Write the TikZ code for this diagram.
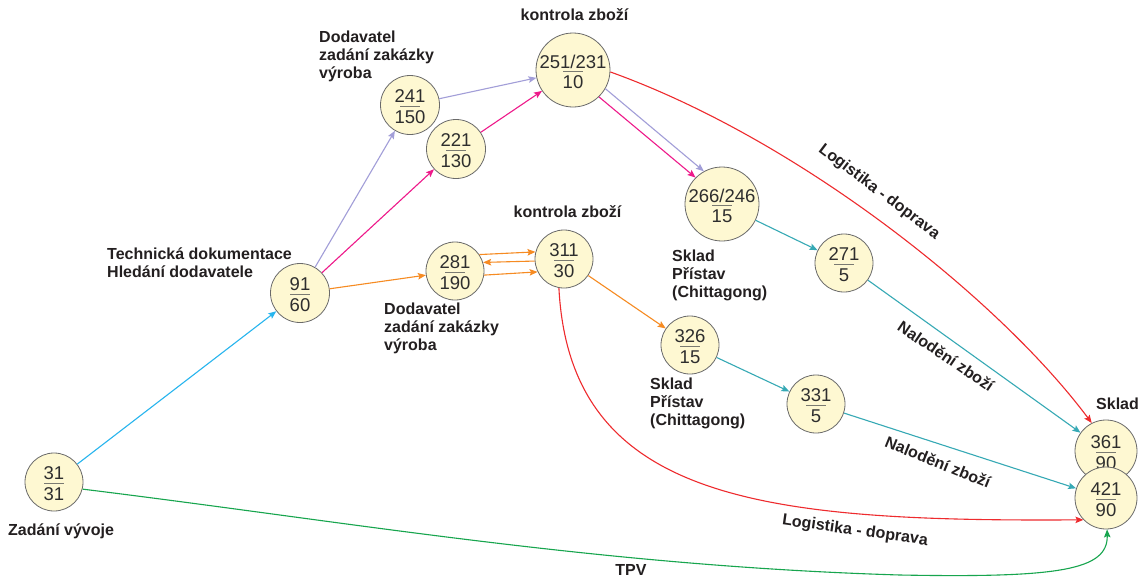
\documentclass[tikz,border=0pt]{standalone}
\usepackage{fontspec}
\setmainfont{Liberation Sans}
\usetikzlibrary{arrows.meta,calc}

\definecolor{nodefill}{HTML}{FEF8D2}
\definecolor{rimgray}{HTML}{6A6A6A}
\definecolor{numgray}{HTML}{2E2E2E}
\definecolor{bargray}{HTML}{7A7A72}
\definecolor{lblgray}{HTML}{231F20}
\definecolor{cyanA}{HTML}{27B5EE}
\definecolor{lav}{HTML}{A29ED8}
\definecolor{mag}{HTML}{EE1A8A}
\definecolor{ora}{HTML}{F68B22}
\definecolor{tealA}{HTML}{36A9B5}
\definecolor{redA}{HTML}{EE2B2E}
\definecolor{grn}{HTML}{17A54E}

\tikzset{
  state/.style={circle, draw=rimgray, fill=nodefill, line width=0.8pt, inner sep=0pt},
  numtxt/.style={inner sep=0pt, font=\fontsize{18.5}{20}\selectfont, text=numgray},
  lbl/.style={inner sep=0pt, font=\bfseries\fontsize{16}{17.7}\selectfont, text=lblgray, align=left},
  conn/.style={line width=1.1pt, -{Stealth[length=8pt,width=6.5pt,inset=1.5pt]}},
  fracbar/.style={draw=bargray, line width=1pt},
}

% circle holding a fraction: name, x, y, radius, numerator, denominator
\newcommand\fracnode[6]{%
  \node[state, minimum size=#4*2pt] (#1) at (#2,#3) {};
  \node[numtxt] (#1-n) at ($(#1)+(0,-8.5)$) {#5};
  \node[numtxt] (#1-d) at ($(#1)+(0,12.5)$) {#6};
  \draw[fracbar] ($(#1)+(-10,1.5)$) -- ($(#1)+(10,1.5)$);
}

\begin{document}
\begin{tikzpicture}[x=1pt,y=-1pt]
\useasboundingbox (0,0) rectangle (1143,579);
\fill[white] (0,0) rectangle (1143,579);

% event nodes
\fracnode{n31}{54}{482}{29}{31}{31}
\fracnode{n91}{300}{293}{29.5}{91}{60}
\fracnode{n241}{410}{105}{29.5}{241}{150}
\fracnode{n221}{456}{149}{29.5}{221}{130}
\fracnode{n251}{573}{70}{37}{251/231}{10}
\fracnode{n281}{455}{271}{29}{281}{190}
\fracnode{n311}{564}{259}{29}{311}{30}
\fracnode{n266}{722}{204}{37}{266/246}{15}
\fracnode{n271}{844}{263}{29}{271}{5}
\fracnode{n326}{690}{345}{29}{326}{15}
\fracnode{n331}{816}{404}{29}{331}{5}
\fracnode{n361}{1106}{451}{31}{361}{90}
\fracnode{n421}{1106}{498}{31}{421}{90}

% activities
\draw[conn, cyanA] (n31) -- (n91);
\draw[conn, lav] (n91) -- (n241);
\draw[conn, mag] (n91) -- (n221);
\draw[conn, ora] (n91) -- (n281);
\draw[conn, lav] (n241) -- (n251);
\draw[conn, mag] (n221) -- (n251);
\draw[conn, lav] (n251.-30) -- (n266.119);
\draw[conn, mag] (n251.-46) -- (n266.135);
\draw[conn, ora] (n281.34) -- (n311.166);
\draw[conn, ora] (n311.184) -- (n281.17);
\draw[conn, ora] (n281.-8) -- (n311.-154);
\draw[conn, ora] (n311) -- (n326);
\draw[conn, tealA] (n266) -- (n271);
\draw[conn, tealA] (n271) -- (n361);
\draw[conn, tealA] (n326) -- (n331);
\draw[conn, tealA] (n331) -- (n421);
\draw[conn, redA] (n251.-3) .. controls (800,140) and (1000,300) .. (n361.117);
\draw[conn, redA] (n311.-100) .. controls (570,500) and (760,522) .. (n421.-136);
\draw[conn, grn] (n31.-14) .. controls (350,522) and (600,566) .. (900,575)
  .. controls (1060,578) and (1108,570) .. (n421.-88);

% node captions (multi-line nodes are anchored at their last baseline)
\node[lbl, anchor=base west] (capA) at (8,535) {Zadání vývoje};
\node[lbl, anchor=base west] (capB) at (107,277.5) {Technická dokumentace\\Hledání dodavatele};
\node[lbl, anchor=base west] (capC) at (319,78) {Dodavatel\\zadání zakázky\\výroba};
\node[lbl, anchor=base] (capD) at (574.5,20) {kontrola zboží};
\node[lbl, anchor=base] (capE) at (567.5,217) {kontrola zboží};
\node[lbl, anchor=base west] (capF) at (384,350) {Dodavatel\\zadání zakázky\\výroba};
\node[lbl, anchor=base west] (capG) at (672,297) {Sklad\\Přístav\\(Chittagong)};
\node[lbl, anchor=base west] (capH) at (650,425) {Sklad\\Přístav\\(Chittagong)};
\node[lbl, anchor=base west] (capI) at (1096,409) {Sklad};

% activity captions
\node[lbl, rotate=-37] (actA) at (879,192) {Logistika - doprava};
\node[lbl, rotate=-34] (actB) at (946,356) {Nalodění zboží};
\node[lbl, rotate=-22] (actC) at (938,462) {Nalodění zboží};
\node[lbl, rotate=-8] (actD) at (855,531) {Logistika - doprava};
\node[lbl] (actE) at (631,570) {TPV};
\end{tikzpicture}
\end{document}
